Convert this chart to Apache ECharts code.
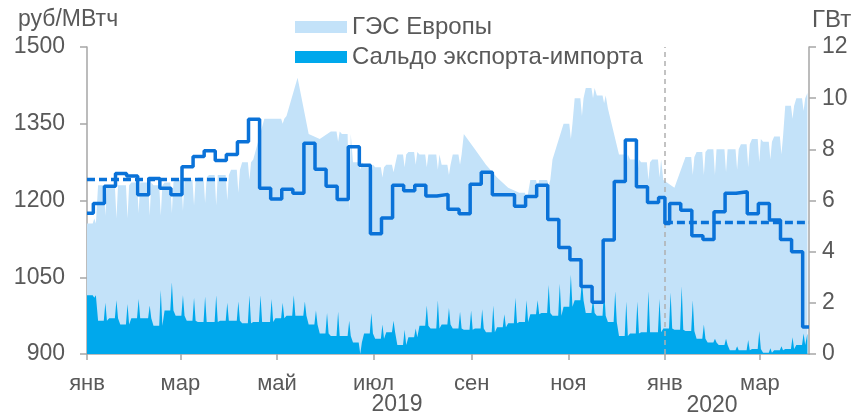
<!DOCTYPE html>
<html>
<head>
<meta charset="utf-8">
<script src="https://cdn.jsdelivr.net/npm/echarts@6/dist/echarts.min.js"></script>
<style>
  html, body { margin: 0; padding: 0; background: #fff; }
  #chart { width: 858px; height: 416px; }
</style>
</head>
<body>
<div id="chart"></div>
<script>
// Weekly price, rub/MWh: each value holds from its start date to the next one
const priceStart = [
  "2019-01-01", "2019-01-05", "2019-01-12", "2019-01-19", "2019-01-26",
  "2019-02-02", "2019-02-09", "2019-02-16", "2019-02-23", "2019-03-02",
  "2019-03-09", "2019-03-16", "2019-03-23", "2019-03-30", "2019-04-06",
  "2019-04-13", "2019-04-20", "2019-04-27", "2019-05-04", "2019-05-11",
  "2019-05-18", "2019-05-25", "2019-06-01", "2019-06-08", "2019-06-15",
  "2019-06-22", "2019-06-29", "2019-07-06", "2019-07-13", "2019-07-20",
  "2019-07-27", "2019-08-03", "2019-08-10", "2019-08-17", "2019-08-24",
  "2019-08-31", "2019-09-07", "2019-09-14", "2019-09-21", "2019-09-28",
  "2019-10-05", "2019-10-12", "2019-10-19", "2019-10-26", "2019-11-02",
  "2019-11-09", "2019-11-16", "2019-11-23", "2019-11-30", "2019-12-07",
  "2019-12-14", "2019-12-21", "2019-12-28", "2020-01-01", "2020-01-04",
  "2020-01-11", "2020-01-18", "2020-01-25", "2020-02-01", "2020-02-08",
  "2020-02-15", "2020-02-22", "2020-02-29", "2020-03-07", "2020-03-14",
  "2020-03-21", "2020-03-28"
];
const priceEnd = "2020-04-01";
const price = [
  1175, 1194, 1228, 1253, 1248, 1211, 1243, 1224, 1211, 1266,
  1286, 1297, 1278, 1290, 1315, 1359, 1224, 1203, 1222, 1214,
  1312, 1261, 1228, 1202, 1305, 1269, 1135, 1166, 1230, 1219,
  1230, 1209, 1212, 1183, 1174, 1232, 1255, 1211, 1211, 1189,
  1208, 1230, 1163, 1108, 1084, 1032, 1001, 1123, 1237, 1318,
  1227, 1196, 1206, 1155, 1194, 1181, 1131, 1124, 1178, 1214,
  1217, 1174, 1194, 1162, 1124, 1100, 953
];

// Q1 average price
const avgPeriods = [
  ["2019-01-01", "2019-03-31", 1241],
  ["2020-01-01", "2020-04-01", 1157]
];

// Weekly readings, GW (week k starts 2019-01-01 + 7k days);
// "dip"/"peak" is the weekend extreme of that week
const hydroWeek = [
  5.1, 6.6, 6.6, 6.6, 6.7, 6.7, 6.6, 6.7, 6.8, 6.8,
  6.9, 7.0, 7.0, 7.2, 7.5, 7.6, 9.2, 9.2, 9.3, 10.8,
  8.6, 8.4, 8.7, 8.6, 7.5, 7.4, 7.3, 7.4, 7.8, 7.9,
  7.8, 7.8, 7.4, 7.8, 8.6, 8.0, 7.4, 6.9, 6.5, 6.3,
  6.8, 6.8, 7.6, 9.0, 10.0, 10.4, 10.1, 9.6, 7.8, 7.6,
  7.5, 7.6, 6.8, 6.5, 7.7, 7.9, 8.0, 8.0, 8.0, 8.2,
  8.4, 8.3, 8.5, 9.7, 10.0, 10.2
];
const hydroDip = [
  5.3, 5.4, 5.3, 5.3, 5.5, 5.4, 5.4, 5.5, 5.6, 5.8,
  5.9, 5.8, 6.0, 6.3, 6.8, null, null, 9.0, null, null,
  null, null, 8.3, 5.6, 7.2, 7.0, 6.9, 7.1, 7.3, 7.4,
  7.3, 7.2, 7.0, 7.4, null, null, null, null, null, 6.0,
  6.5, 6.6, null, 8.4, 9.3, 10.0, 9.8, null, 7.2, 7.0,
  6.8, 6.9, null, null, 7.0, 7.0, 7.0, 7.1, 7.2, 7.3,
  7.5, 7.6, 7.8, 9.2, 9.5, null
];
const saldoWeek = [
  2.3, 1.3, 1.4, 1.15, 1.4, 1.4, 1.1, 1.7, 1.5, 1.3,
  1.25, 1.25, 1.3, 1.3, 1.2, 1.25, 1.25, 1.4, 1.5, 1.5,
  1.15, 0.8, 0.7, 0.7, 0.45, 0.8, 0.6, 0.85, 0.35, 0.65,
  1.1, 1.0, 1.15, 1.0, 0.95, 1.0, 0.85, 1.05, 1.2, 1.25,
  1.55, 1.6, 1.5, 1.85, 2.1, 1.6, 1.5, 1.25, 0.7, 0.8,
  0.85, 0.85, 1.0, 0.95, 0.9, 0.6, 0.45, 0.35, 0.15, 0.15,
  0.2, 0.05, 0.15, 0.2, 0.35, 0.8
];
const saldoPeak = [
  2.2, 2.0, 2.1, 1.95, 2.15, 1.9, 2.5, 2.8, 2.3, 2.2,
  2.25, 2.3, 2.0, 2.05, 2.3, 2.3, 2.15, 2.0, 2.3, 2.05,
  1.7, 1.6, 1.65, 1.3, 0.0, 1.6, 1.15, 1.3, 0.95, 1.0,
  1.9, 2.1, 1.8, 1.65, 1.7, 1.75, 1.9, 1.55, 2.2, 2.1,
  2.1, 2.7, 2.75, 3.1, 2.9, 2.2, 2.55, 2.45, 2.05, 2.05,
  2.45, 2.15, 2.4, 2.65, 2.1, 1.15, 0.6, 0.6, 0.3, 0.55,
  0.9, 0.22, 0.3, 0.65, 0.8, null
];

// Axis ticks
const monthTicks = [
  "2019-01-01", "2019-03-01", "2019-05-01", "2019-07-01",
  "2019-09-01", "2019-11-01", "2020-01-01", "2020-03-01"
];
const monthNames = ["янв", "фев", "мар", "апр", "май", "июн",
  "июл", "авг", "сен", "окт", "ноя", "дек"];
const yearLabels = ["2019", "2020"];
const seriesNames = ["ГЭС Европы", "Сальдо экспорта-импорта"];

// Helpers
const DAY = 86400000;
const T0 = Date.UTC(2019, 0, 1);
function dayOf(s) {
  const [y, m, d] = s.split("-").map(Number);
  return (Date.UTC(y, m - 1, d) - T0) / DAY;
}
function monthOf(day) {
  return new Date(T0 + day * DAY).getUTCMonth();
}
function weekly(base, extreme) {
  const pts = [];
  base.forEach((b, k) => {
    const d = k * 7;
    pts.push([d, b]);
    const e = extreme[k];
    if (e != null) {
      pts.push([d + 3.6, b], [d + 4.6, e], [d + 5.6, b]);
    }
  });
  return pts;
}

const priceData = priceStart.map((s, i) => [dayOf(s), price[i]]);
priceData.push([dayOf(priceEnd), price[price.length - 1]]);

const font = "'Liberation Sans', Arial, sans-serif";
const grey = "#595959";
const axisGrey = "#A6A6A6";
const lightBlue = "#C3E2F9";
const darkBlue = "#00A8EC";
const lineBlue = "#0A72D8";

const chart = echarts.init(document.getElementById("chart"));

const option = {
  animation: false,
  textStyle: { fontFamily: font },
  grid: { left: 87, right: 49, top: 47, bottom: 62 },
  legend: {
    orient: "vertical",
    left: 295,
    top: 15,
    padding: 0,
    itemWidth: 52,
    itemHeight: 12,
    itemGap: 6,
    textStyle: { color: grey, fontSize: 24, lineHeight: 24, fontFamily: font },
    data: [
      { name: seriesNames[0], icon: "rect", itemStyle: { color: lightBlue } },
      { name: seriesNames[1], icon: "rect", itemStyle: { color: darkBlue } },
    ],
  },
  graphic: [
    {
      type: "text", left: 18, top: 8,
      style: { text: "руб/МВтч", fill: grey, font: `23px ${font}` },
    },
    {
      type: "text", left: 812, top: 8,
      style: { text: "ГВт", fill: grey, font: `24px ${font}` },
    },
    {
      type: "text", x: 397, y: 405,
      style: { text: yearLabels[0], fill: grey, font: `23px ${font}`,
        textAlign: "center", textVerticalAlign: "middle" },
    },
    {
      type: "text", x: 712, y: 406,
      style: { text: yearLabels[1], fill: grey, font: `23px ${font}`,
        textAlign: "center", textVerticalAlign: "middle" },
    },
  ],
  xAxis: {
    type: "value",
    min: 0,
    max: dayOf("2020-04-01"),
    splitLine: { show: false },
    axisLine: { lineStyle: { color: axisGrey, width: 1.5 } },
    axisTick: {
      customValues: monthTicks.map(dayOf),
      length: 6,
      lineStyle: { color: axisGrey, width: 1.5 },
    },
    axisLabel: {
      customValues: monthTicks.map(dayOf),
      formatter: (v) => monthNames[monthOf(v)],
      color: grey,
      fontSize: 22,
      margin: 19,
    },
  },
  yAxis: [
    {
      type: "value",
      min: 900,
      max: 1500,
      interval: 150,
      splitLine: { show: false },
      axisLine: { show: true, lineStyle: { color: axisGrey, width: 1.5 } },
      axisTick: { show: true, length: 7, lineStyle: { color: axisGrey, width: 1.5 } },
      axisLabel: { color: grey, fontSize: 23, margin: 22, formatter: (v) => String(v) },
    },
    {
      type: "value",
      min: 0,
      max: 12,
      interval: 2,
      splitLine: { show: false },
      axisLine: { show: true, lineStyle: { color: axisGrey, width: 1.5 } },
      axisTick: { show: true, length: 7, lineStyle: { color: axisGrey, width: 1.5 } },
      axisLabel: { color: grey, fontSize: 23, margin: 13 },
    },
  ],
  series: [
    // Year divider, kept behind the areas
    {
      type: "line",
      data: [],
      z: 1,
      markLine: {
        silent: true,
        symbol: "none",
        label: { show: false },
        lineStyle: { color: "#B0B0B0", type: [5, 4], width: 1.5 },
        data: [{ xAxis: dayOf("2020-01-01") }],
      },
    },
    {
      name: seriesNames[0],
      type: "line",
      yAxisIndex: 1,
      z: 2,
      showSymbol: false,
      data: weekly(hydroWeek, hydroDip),
      itemStyle: { color: lightBlue },
      lineStyle: { width: 0 },
      areaStyle: { color: lightBlue, opacity: 1 },
    },
    {
      name: seriesNames[1],
      type: "line",
      yAxisIndex: 1,
      z: 3,
      showSymbol: false,
      data: weekly(saldoWeek, saldoPeak),
      itemStyle: { color: darkBlue },
      lineStyle: { width: 0 },
      areaStyle: { color: darkBlue, opacity: 1 },
    },
    ...avgPeriods.map(([a, b, v]) => ({
      type: "line",
      z: 4,
      showSymbol: false,
      data: [[dayOf(a), v], [dayOf(b), v]],
      lineStyle: { color: lineBlue, width: 3.5, type: [8, 4] },
    })),
    {
      type: "line",
      z: 5,
      step: "end",
      showSymbol: false,
      data: priceData,
      lineStyle: { color: lineBlue, width: 3.5 },
    },
  ],
};

chart.setOption(option);
window.addEventListener("resize", () => chart.resize());
</script>
</body>
</html>
